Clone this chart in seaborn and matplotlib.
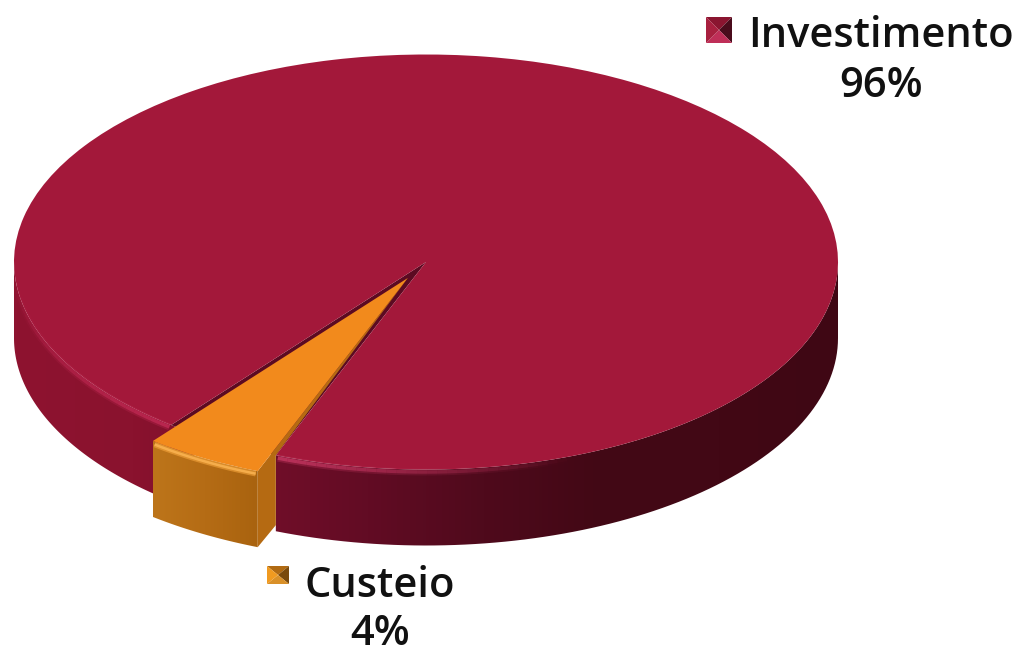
import numpy as np
import matplotlib
matplotlib.use('Agg')
import matplotlib.pyplot as plt
from matplotlib.patches import Polygon
from matplotlib.transforms import Affine2D
import seaborn as sns

# chart values
labels = ['Investimento', 'Custeio']
shares = [96, 4]

# colours
top_colors = ['#a3183a', '#f28a1c']
wall_colors = ['#8e1330', '#8a122e', '#740e2a', '#620c24', '#4f0a1c', '#420815', '#420815', '#3f0714']
slice_wall_colors = ['#bd751a', '#b56c15', '#a9630f']
cut_color = '#b56a12'
notch_color = '#5c0a22'
key_colors = [['#8a1530', '#4a0c1c', '#bf2f58', '#a8203f'],
              ['#b06a12', '#7a4a0c', '#d99028', '#f09a20']]

W, H = 1019, 649
# pie ellipse in pixels, the axes works in pie units so radius 1 is the ellipse
cx, cy, rx, ry = 426, 262, 412, 207.5
depth = 76 / ry
explode = 0.0885
mid_angle = 240.2
# the tilted view makes the front slice look wider than its share
front_stretch = 1.17

sns.set_theme(style='white')
plt.rcParams['font.family'] = ['Open Sans', 'DejaVu Sans']

fig = plt.figure(figsize=(W / 100, H / 100), dpi=100)
ax = fig.add_axes([0, 0, 1, 1])
px = Affine2D().scale(1 / W, -1 / H).translate(0, 1) + fig.transFigure


def arc(t1, t2, center=(0, 0), drop=0.0, n=80):
    t = np.radians(np.linspace(t1, t2, n))
    return np.column_stack([center[0] + np.cos(t), center[1] + np.sin(t) - drop])


def gradient_fill(points, cmap, x0, x1, zorder):
    poly = Polygon(points, closed=True, transform=ax.transData)
    grad = np.linspace(0, 1, 256)[None, :]
    im = ax.imshow(grad, cmap=cmap, extent=(x0, x1, -2, 2), aspect='auto', zorder=zorder)
    im.set_clip_path(poly)


def fading_rim(t1, t2, color, peak, drop=0.012, center=(0, 0), zorder=4):
    # alpha goes from 0 at t1 to peak at t2, so the light dies out along the edge
    steps = np.linspace(t1, t2, 30)
    for i in range(len(steps) - 1):
        frac = (i + 1) / (len(steps) - 1)
        seg = arc(steps[i], steps[i + 1], center, drop, n=4)
        for lw, strength in [(5, 0.3), (2.5, 0.7)]:
            ax.plot(seg[:, 0], seg[:, 1], color=color, lw=lw, alpha=peak * frac * strength,
                    zorder=zorder, solid_capstyle='butt')


# top face from the data
span = shares[1] * 3.6
wedges, _ = ax.pie(shares, colors=top_colors, radius=1,
                   startangle=mid_angle + span / 2, explode=[0, explode],
                   wedgeprops={'linewidth': 0})
half = span / 2 * front_stretch
t_left, t_right = mid_angle - half, mid_angle + half
wedges[0].set_theta1(t_right)
wedges[0].set_theta2(t_left + 360)
wedges[1].set_theta1(t_left)
wedges[1].set_theta2(t_right)
wedges[0].set_zorder(3)
wedges[1].set_zorder(6)
ax.set_aspect('auto')

off = (explode * np.cos(np.radians(mid_angle)), explode * np.sin(np.radians(mid_angle)))

# outer wall, the left part runs on under the pulled out slice
wall_cmap = sns.blend_palette(wall_colors, as_cmap=True)
for t1, t2 in [(180, t_left + 4), (t_right, 360)]:
    pts = np.vstack([arc(t1, t2), arc(t2, t1, drop=depth)])
    gradient_fill(pts, wall_cmap, -1, 1, 1)

# dark inside of the notch
notch = np.vstack([[(0, 0)], arc(t_left, t_right, n=20)])
ax.add_patch(Polygon(notch, closed=True, fc=notch_color, ec='none', zorder=2))

# soft light rim on the front edge, strongest next to the slice
fading_rim(184, t_left - 0.3, '#c72c58', 1.0)
fading_rim(290, t_right + 0.3, '#cc3a66', 1.0)

# pulled out slice: front wall and cut face
slice_cmap = sns.blend_palette(slice_wall_colors, as_cmap=True)
front = np.vstack([arc(t_left, t_right, off), arc(t_right, t_left, off, drop=depth)])
gradient_fill(front, slice_cmap, front[:, 0].min(), front[:, 0].max(), 5)

corner = arc(t_right, t_right, n=1)[0]
front_corner = corner + off
cut = [tuple(off), tuple(front_corner), tuple(front_corner - (0, depth)),
       tuple(corner - (0, depth * 0.92)), tuple(corner)]
ax.add_patch(Polygon(cut, closed=True, fc=cut_color, ec='none', zorder=5))

# rim of the slice
a = arc(t_left + 0.3, t_right - 0.3, off, drop=0.014)
ax.plot(a[:, 0], a[:, 1], color='#fbaa40', lw=4, alpha=0.55, zorder=7, solid_capstyle='butt')
ax.plot(a[:, 0], a[:, 1], color='#fdb654', lw=1.8, alpha=0.8, zorder=7, solid_capstyle='butt')

ax.set_xlim(-cx / rx, (W - cx) / rx)
ax.set_ylim((cy - H) / ry, cy / ry)
ax.axis('off')


def draw_key(x0, y0, w, h, colors):
    x1, y1 = x0 + w, y0 + h
    mx, my = x0 + w / 2, y0 + h / 2
    faces = [[(x0, y0), (x1, y0), (mx, my)], [(x1, y0), (x1, y1), (mx, my)],
             [(x1, y1), (x0, y1), (mx, my)], [(x0, y1), (x0, y0), (mx, my)]]
    for face, col in zip(faces, colors):
        fig.add_artist(Polygon(face, closed=True, fc=col, ec='none', transform=px))


draw_key(706, 17, 26, 26, key_colors[0])
draw_key(267, 566, 22, 18, key_colors[1])

text_style = dict(ha='center', va='baseline', fontsize=30, fontweight='semibold', color='#111111', transform=px)
fig.text(881, 47, labels[0], **text_style)
fig.text(881, 97, f'{shares[0]}%', **text_style)
fig.text(380, 597, labels[1], **text_style)
fig.text(380, 645, f'{shares[1]}%', **text_style)

fig.savefig('out.png', dpi=100, facecolor='white')
